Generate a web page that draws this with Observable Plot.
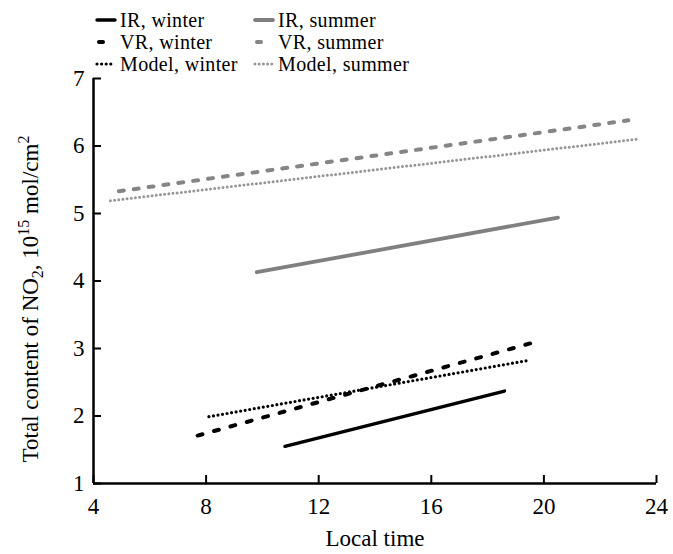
<!DOCTYPE html>
<html><head><meta charset="utf-8">
<script src="https://cdn.jsdelivr.net/npm/d3@7"></script>
<script src="https://cdn.jsdelivr.net/npm/@observablehq/plot@0.6"></script>
<style>
body{margin:0;background:#fff;}
#wrap{position:relative;width:673px;height:554px;font-family:"Liberation Serif","Times New Roman",serif;}
#legend{position:absolute;left:95px;top:9px;display:grid;grid-template-columns:158px 220px;font-size:20px;line-height:22.2px;color:#000;}
.item{display:flex;align-items:center;height:22.2px;white-space:nowrap;}
.item svg{margin-right:3px;flex:none;}
.item span{display:block;height:22.2px;line-height:22.2px;letter-spacing:0.35px;}
#wrap svg text{font-family:"Liberation Serif","Times New Roman",serif;font-size:23px;fill:#000;}
</style></head><body><div id="wrap"><div id="legend"></div></div>
<script>
// ---- data ----
const series = ["IR, winter", "IR, summer", "VR, winter", "VR, summer", "Model, winter", "Model, summer"];
const startTime  = [10.8, 9.8, 7.7, 4.9, 8.1, 4.6];
const endTime    = [18.6, 20.5, 19.9, 23.0, 19.4, 23.3];
const startValue = [1.55, 4.13, 1.71, 5.33, 1.99, 5.19];
const endValue   = [2.37, 4.94, 3.12, 6.38, 2.82, 6.10];
const xTicks = [4, 8, 12, 16, 20, 24];
const yTicks = [1, 2, 3, 4, 5, 6, 7];

// ---- styles ----
const styles = {
  "IR, winter":    {stroke: "#000",    strokeWidth: 3.4, dash: null},
  "IR, summer":    {stroke: "#808080", strokeWidth: 3.8, dash: null},
  "VR, winter":    {stroke: "#000",    strokeWidth: 4,   dash: "5,12"},
  "VR, summer":    {stroke: "#858585", strokeWidth: 4,   dash: "5,10"},
  "Model, winter": {stroke: "#000",    strokeWidth: 3.2, dash: "0,4.6"},
  "Model, summer": {stroke: "#969696", strokeWidth: 3,   dash: "0,4.2"}
};

const rows = series.flatMap((s, i) => [
  {series: s, time: startTime[i], value: startValue[i]},
  {series: s, time: endTime[i], value: endValue[i]}
]);

const lineMarks = series.map(s => {
  const st = styles[s];
  return Plot.line(rows.filter(d => d.series === s), {
    x: "time", y: "value",
    stroke: st.stroke, strokeWidth: st.strokeWidth,
    strokeDasharray: st.dash || undefined,
    strokeLinecap: "round"
  });
});

const chart = Plot.plot({
  width: 673, height: 554,
  marginTop: 78, marginBottom: 71, marginLeft: 93, marginRight: 17,
  style: {fontFamily: "'Liberation Serif','Times New Roman',serif", fontSize: "23px", color: "#000", background: "#fff", overflow: "visible"},
  x: {domain: [4, 24]},
  y: {domain: [1, 7]},
  marks: [
    Plot.axisX(xTicks, {tickSize: -8, tickPadding: 22, strokeWidth: 2, fontSize: 23, tickFormat: d => String(d),
      label: "Local time", labelAnchor: "center", labelOffset: 62, labelArrow: false}),
    Plot.axisY(yTicks, {tickSize: -8, tickPadding: 17, strokeWidth: 2, fontSize: 23, tickFormat: d => String(d),
      label: "Total content of NO2", labelAnchor: "center", labelOffset: 72, labelArrow: false}),
    Plot.ruleX([4], {strokeWidth: 2.5}),
    Plot.ruleY([1], {strokeWidth: 2.5}),
    ...lineMarks
  ]
});
document.getElementById("wrap").appendChild(chart);

// rich y-axis label (subscript / superscripts)
const ylab = chart.querySelector('g[aria-label="y-axis label"] text');
if (ylab) {
  const NS = "http://www.w3.org/2000/svg";
  ylab.textContent = "";
  const parts = [["Total content of NO", 0], ["2", 1], [", 10", 0], ["15", 2], [" mol/cm", 0], ["2", 2]];
  let shift = 0;
  for (const [t, kind] of parts) {
    const ts = document.createElementNS(NS, "tspan");
    const target = kind === 1 ? 5 : kind === 2 ? -9 : 0;
    ts.setAttribute("dy", target - shift);
    shift = target;
    if (kind) ts.setAttribute("style", "font-size:16px");
    ts.textContent = t;
    ylab.appendChild(ts);
  }
  const tr = ylab.getAttribute("transform") || "";
  ylab.setAttribute("transform", tr + " translate(-18,0)");
}

// legend (HTML above the plot)
const legend = document.getElementById("legend");
for (const s of series) {
  const st = styles[s];
  const item = document.createElement("div");
  item.className = "item";
  const isVR = s.startsWith("VR");
  const x1 = isVR ? 4 : 2, x2 = isVR ? 8 : 20;
  item.innerHTML = `<svg width="22" height="12"><line x1="${x1}" y1="6" x2="${x2}" y2="6" stroke="${st.stroke}" stroke-width="${st.strokeWidth}" stroke-linecap="round" ${st.dash && !isVR ? `stroke-dasharray="${st.dash}"` : ""}/></svg><span>${s}</span>`;
  legend.appendChild(item);
}
</script>
</body></html>
